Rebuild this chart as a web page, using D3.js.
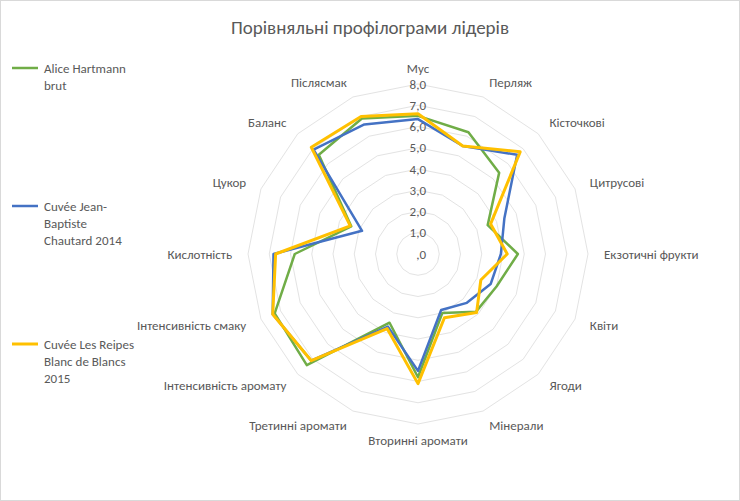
<!DOCTYPE html>
<html><head><meta charset="utf-8">
<script src="https://cdn.jsdelivr.net/npm/d3@7"></script>
<style>body{margin:0;background:#fff}</style></head>
<body><div id="chart"></div>
<script>
const axesNames = ['Мус','Перляж','Кісточкові','Цитрусові','Екзотичні фрукти','Квіти','Ягоди','Мінерали',
  'Вторинні аромати','Третинні аромати','Інтенсивність аромату','Інтенсивність смаку','Кислотність','Цукор','Баланс','Післясмак'];
const aliceVals  = [6.5, 6.2, 5.4, 3.55, 4.7, 4.0, 3.85, 3.0, 5.8, 3.5, 7.4, 7.3, 5.8, 3.4, 6.6, 6.9];
const jeanVals   = [6.35, 5.5, 6.6, 4.4, 3.9, 3.7, 3.25, 2.85, 5.5, 3.7, 7.1, 7.4, 6.8, 2.85, 6.95, 6.6];
const reipesVals = [6.6, 5.5, 6.8, 3.7, 4.2, 3.2, 3.9, 3.25, 6.1, 3.8, 7.1, 7.4, 6.7, 3.45, 7.1, 7.0];
const seriesNames = [['Alice Hartmann','brut'],['Cuvée Jean-','Baptiste','Chautard 2014'],['Cuvée Les Reipes','Blanc de Blancs','2015']];
const tickVals = [0,1,2,3,4,5,6,7,8];

const W = 740, H = 501, cx = 418, cy = 254;
const svg = d3.select('#chart').append('svg').attr('width', W).attr('height', H)
  .style('font-family', 'Calibri, Carlito, "Open Sans", sans-serif');
svg.append('rect').attr('x',0.5).attr('y',0.5).attr('width',W-1).attr('height',H-1)
  .attr('fill','#fff').attr('stroke','#d9d9d9');

svg.append('text').attr('x', 370).attr('y', 34).attr('text-anchor','middle')
  .attr('font-size', 19).attr('fill','#595959').text('Порівняльні профілограми лідерів');

const r = d3.scaleLinear().domain([0, 8]).range([0, 170]);
const ang = i => i * 2 * Math.PI / axesNames.length;
const g = svg.append('g').attr('transform', `translate(${cx},${cy})`);

// grid, no spokes
tickVals.slice(1).forEach(t => {
  g.append('path').attr('fill','none').attr('stroke','#e3e3e3').attr('stroke-width',1)
    .attr('d', d3.lineRadial().angle((d,i)=>ang(i)).radius(()=>r(t)).curve(d3.curveLinearClosed)(axesNames));
});
axesNames.forEach((n,i) => {
  const a = ang(i);
  const lr = r(8) + 16;
  const x = lr*Math.sin(a), y = -lr*Math.cos(a);
  const s = Math.sin(a);
  g.append('text').attr('x', x).attr('y', y).attr('dy','0.35em')
    .attr('text-anchor', Math.abs(s) < 0.2 ? 'middle' : (s > 0 ? 'start' : 'end'))
    .attr('font-size', 13).attr('fill','#595959').text(n);
});
tickVals.forEach(t => {
  g.append('text').attr('x', 8).attr('y', -r(t)).attr('dy','0.35em').attr('text-anchor','end')
    .attr('font-size', 13).attr('fill','#595959').text(t === 0 ? ',0' : d3.format('.1f')(t).replace('.', ','));
});

const colors = ['#70AD47', '#4472C4', '#FFC000'];
const widths = [2.5, 2.5, 3];
const line = d3.lineRadial().angle((d,i)=>ang(i)).radius(d=>r(d)).curve(d3.curveLinearClosed);
[aliceVals, jeanVals, reipesVals].forEach((vals, k) => {
  g.append('path').attr('d', line(vals)).attr('fill','none')
    .attr('stroke', colors[k]).attr('stroke-width', widths[k]).attr('stroke-linejoin','round');
});

// legend
const legY = [68, 206, 344];
seriesNames.forEach((lines, k) => {
  const lg = svg.append('g').attr('transform', `translate(12,${legY[k]})`);
  lg.append('line').attr('x1',0).attr('x2',26).attr('y1',0).attr('y2',0)
    .attr('stroke', colors[k]).attr('stroke-width', widths[k]);
  lines.forEach((t, j) => lg.append('text').attr('x', 32).attr('y', j*17).attr('dy','0.35em')
    .attr('font-size', 13).attr('fill','#595959').text(t));
});
</script></body></html>
